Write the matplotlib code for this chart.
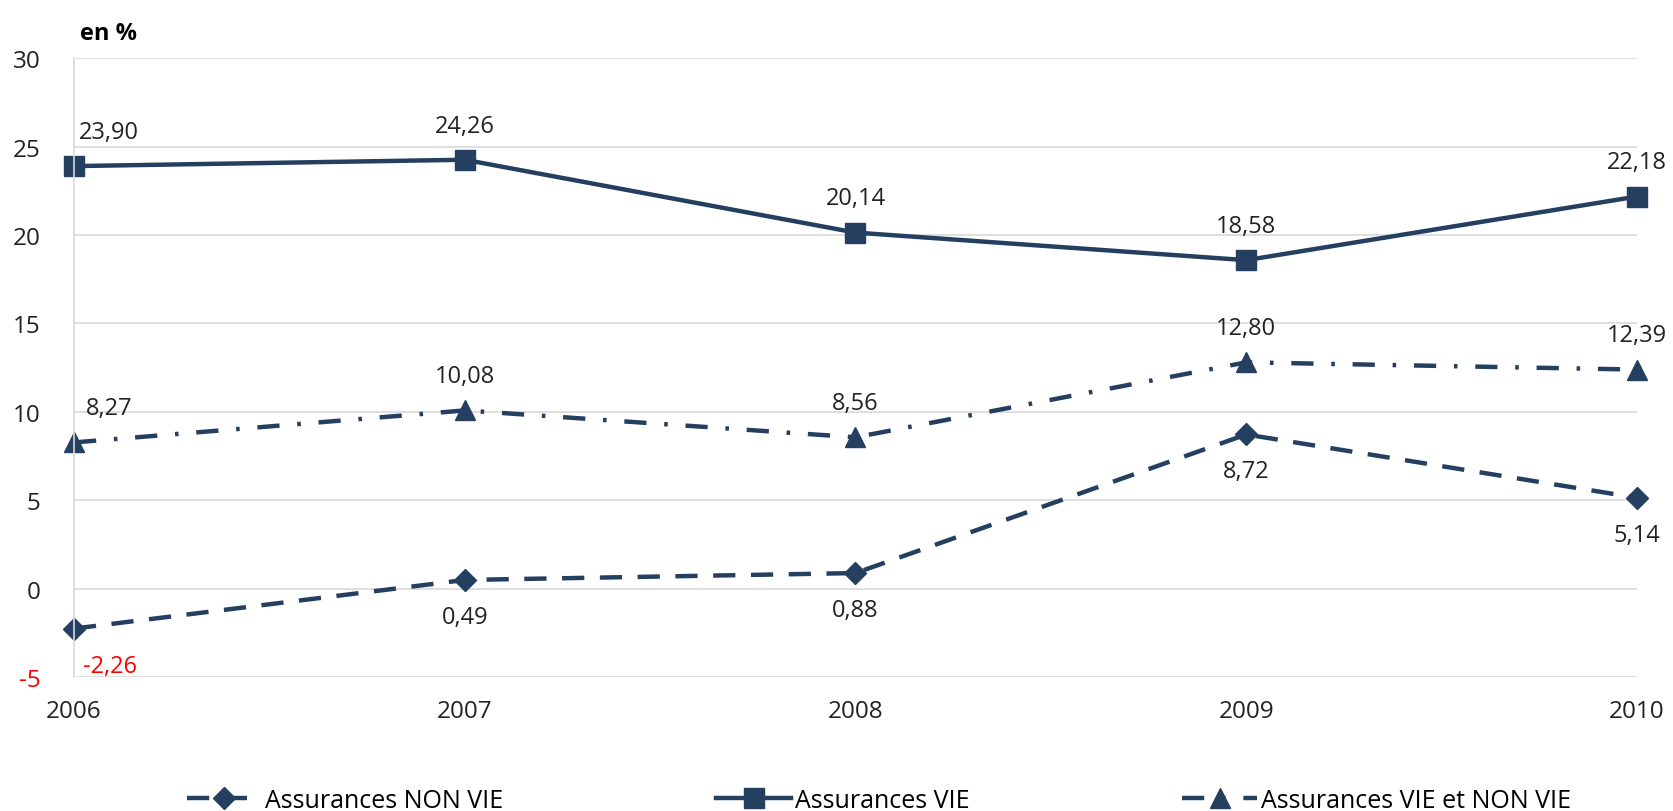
import matplotlib
matplotlib.use("Agg")
import matplotlib.pyplot as plt
import numpy as np

years = ['2006', '2007', '2008', '2009', '2010']
non_vie = [-2.26, 0.49, 0.88, 8.72, 5.14]
vie = [23.90, 24.26, 20.14, 18.58, 22.18]
vie_non_vie = [8.27, 10.08, 8.56, 12.80, 12.39]
y_ticks = [-5, 0, 5, 10, 15, 20, 25, 30]

navy = '#253f61'
plt.rcParams['font.family'] = ['Open Sans', 'DejaVu Sans']


def fmt(v):
    return ('%.2f' % v).replace('.', ',')


fig = plt.figure(figsize=(16.74, 8.12), dpi=100)
ax = fig.add_axes([0.0442, 0.165, 0.9337, 0.762])
x = np.arange(len(years))

l1, = ax.plot(x, non_vie, color=navy, lw=3.2, marker='D', ms=11,
              dashes=(5, 3.5), label='Assurances NON VIE', clip_on=False)
l2, = ax.plot(x, vie, color=navy, lw=3.2, marker='s', ms=14,
              label='Assurances VIE', clip_on=False)
l3, = ax.plot(x, vie_non_vie, color=navy, lw=3.2, marker='^', ms=14,
              dashes=(5, 4, 0.8, 4), label='Assurances VIE et NON VIE', clip_on=False)

# data labels
lab_kw = dict(textcoords='offset points', fontsize=17, color='#222222', ha='center')
for i, v in enumerate(vie):
    dx = 25 if i == 0 else 0
    ax.annotate(fmt(v), (x[i], v), xytext=(dx, 16), va='bottom', **lab_kw)
for i, v in enumerate(vie_non_vie):
    dx = 25 if i == 0 else 0
    ax.annotate(fmt(v), (x[i], v), xytext=(dx, 16), va='bottom', **lab_kw)
for i, v in enumerate(non_vie):
    kw = dict(lab_kw)
    dx = 0
    if v < 0:
        kw['color'] = 'red'
        dx = 26
    ax.annotate(fmt(v), (x[i], v), xytext=(dx, -18), va='top', **kw)

ax.set_xlim(0, 4)
ax.set_ylim(-5, 30)
ax.set_yticks(y_ticks)
ax.set_xticks(x)
ax.set_xticklabels(years)
ax.yaxis.set_major_formatter(matplotlib.ticker.FuncFormatter(lambda v, p: '%d' % v))
ax.tick_params(axis='both', length=0, labelsize=17.5, colors='#222222')
ax.tick_params(axis='x', pad=16)
ax.tick_params(axis='y', pad=24)
fig.canvas.draw()
for t in ax.get_yticklabels():
    if t.get_text().startswith('-'):
        t.set_color('red')

ax.grid(axis='y', color='#d9d9d9', lw=1.2)
ax.set_axisbelow(True)
for s in ['top', 'right', 'bottom']:
    ax.spines[s].set_visible(False)
ax.spines['left'].set_color('#d9d9d9')
ax.spines['left'].set_linewidth(1.2)

fig.text(0.048, 0.958, 'en %', fontsize=17, fontweight='bold', color='black', va='center')

fig.legend(handles=[l1, l2, l3], loc='lower center', ncol=3, frameon=False,
           fontsize=18, bbox_to_anchor=(0.525, -0.03), columnspacing=8.5,
           handlelength=3.0, handletextpad=0.15)

fig.savefig('out.png', dpi=100)
